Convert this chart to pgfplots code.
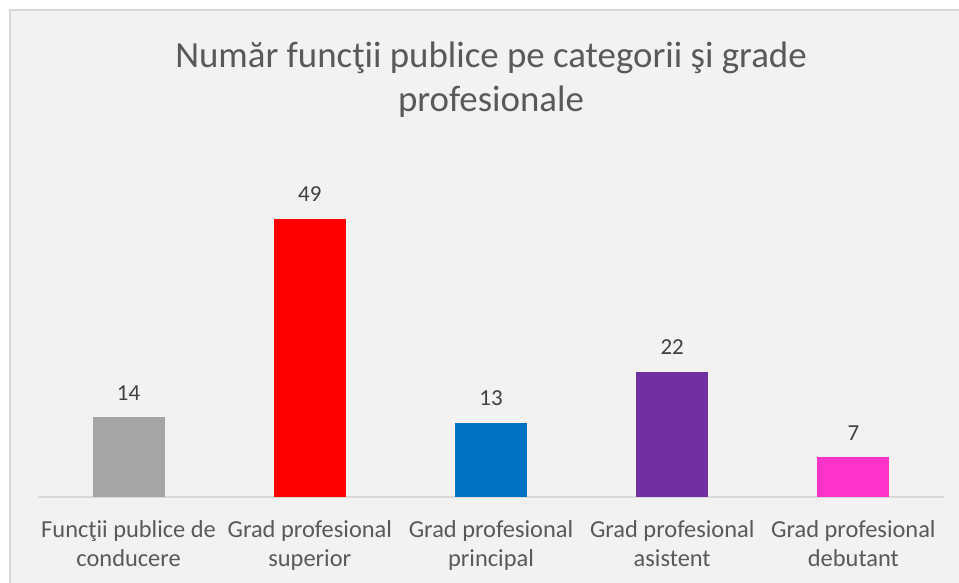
\documentclass[border=0pt]{standalone}
\usepackage{pgfplots}
\pgfplotsset{compat=1.18}
\usepackage{fontspec}
\setmainfont{Carlito}

\definecolor{bgc}{HTML}{F2F2F2}
\definecolor{bordc}{HTML}{D9D9D9}
\definecolor{titc}{HTML}{595959}
\definecolor{valc}{HTML}{404040}
\definecolor{cgray}{HTML}{A5A5A5}
\definecolor{cred}{HTML}{FF0000}
\definecolor{cblue}{HTML}{0070C0}
\definecolor{cpurple}{HTML}{7030A0}
\definecolor{cpink}{HTML}{FF33CC}

\begin{document}
\begin{tikzpicture}[x=1bp,y=1bp]
% chart area
\fill[white] (0,0) rectangle (959,583);
\fill[bgc] (9,0) rectangle (959,574);
\draw[bordc, line width=2bp] (10,0) -- (10,573) -- (959,573);

\begin{axis}[
    at={(38bp,86bp)}, anchor=south west,
    scale only axis,
    width=906bp, height=341bp,
    xmin=-0.5, xmax=4.5, ymin=0, ymax=60,
    ybar, bar width=72bp, bar shift=0pt,
    axis y line=none,
    axis x line*=bottom,
    x axis line style={draw=bordc, line width=1.5bp},
    xtick={0,1,2,3,4},
    major tick length=0pt,
    xticklabels={Funcţii publice de\\conducere, Grad profesional\\superior, Grad profesional\\principal, Grad profesional\\asistent, Grad profesional\\debutant},
    xticklabel style={align=center, text=titc, font=\fontsize{24.5}{29}\selectfont, inner sep=0pt, yshift=-23bp},
    nodes near coords,
    /pgf/number format/assume math mode=true,
    every node near coord/.append style={font=\fontsize{23}{26}\selectfont, text=valc, inner sep=0pt, yshift=17bp},
    clip=false,
]
\addplot[fill=cgray, draw=none] coordinates {(0,14)};
\addplot[fill=cred, draw=none] coordinates {(1,49)};
\addplot[fill=cblue, draw=none] coordinates {(2,13)};
\addplot[fill=cpurple, draw=none] coordinates {(3,22)};
\addplot[fill=cpink, draw=none] coordinates {(4,7)};
\end{axis}

\node[align=center, text=titc, font=\fontsize{37}{44}\selectfont] at (491,503) {Număr funcţii publice pe categorii şi grade\\profesionale};

\pgfresetboundingbox
\useasboundingbox (0,0) rectangle (959,583);
\end{tikzpicture}
\end{document}
